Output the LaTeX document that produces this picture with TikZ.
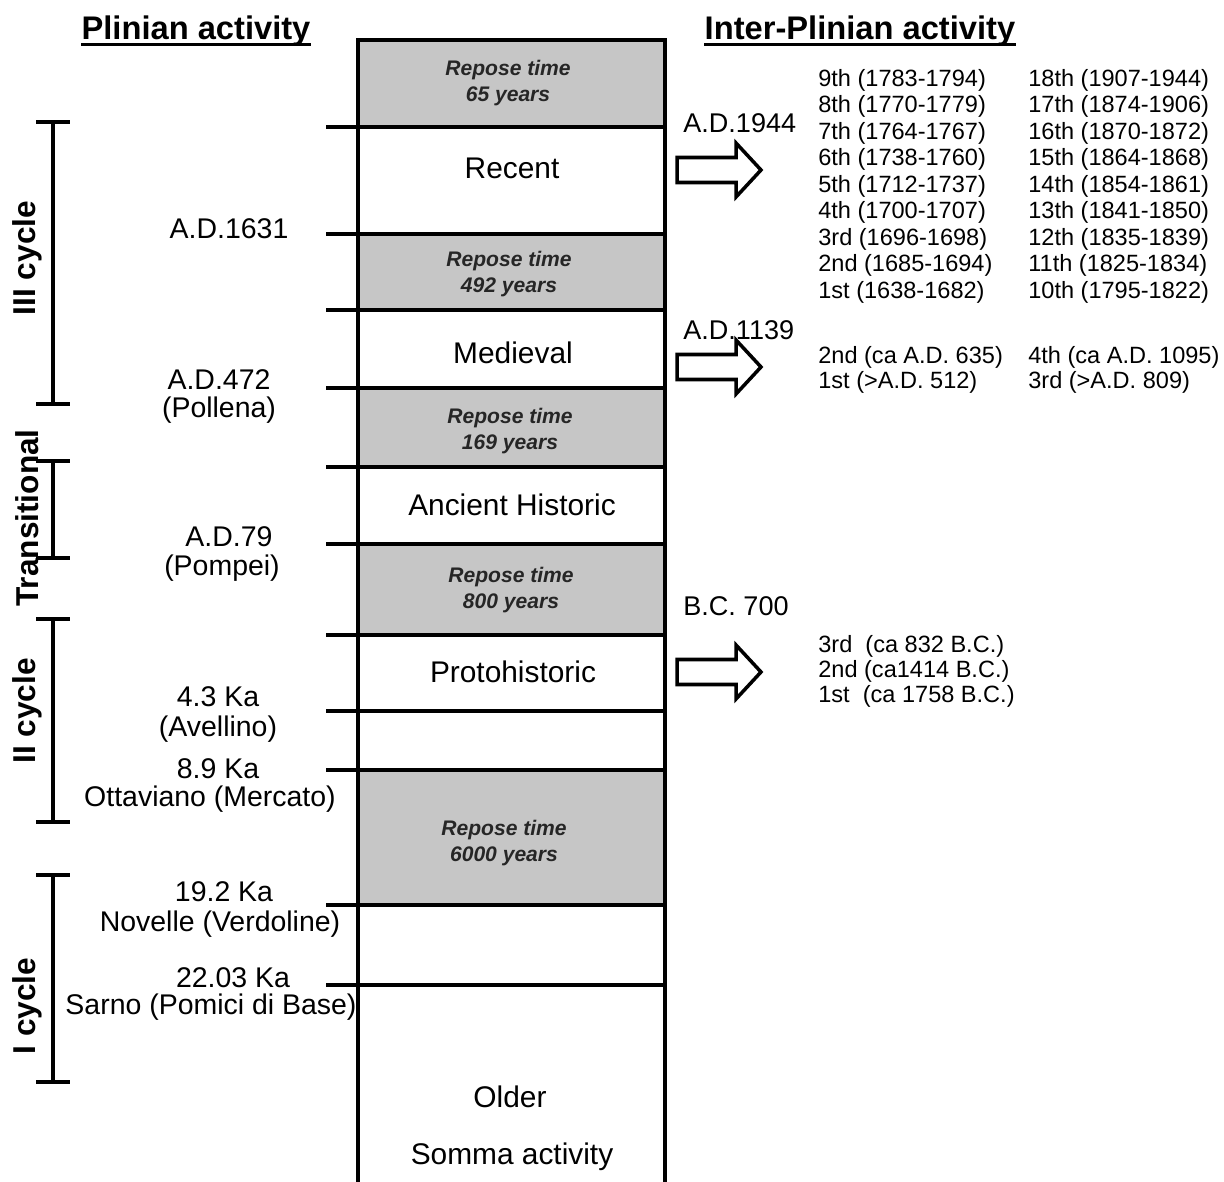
\documentclass[tikz,border=0pt]{standalone}
\usepackage{fontspec}
\setmainfont{Liberation Sans}
\usetikzlibrary{calc}
\definecolor{bandgray}{RGB}{198,198,198}
\tikzset{
  frame/.style      = {line width=2.4pt},
  tick/.style       = {line width=2.1pt},
  bracket/.style    = {line width=2pt},
  blockarrow/.style = {line width=2pt, fill=white, line join=miter},
  heading/.style    = {font=\bfseries\fontsize{18.6}{22}\selectfont, inner sep=0pt, anchor=base},
  bandlabel/.style  = {font=\fontsize{17}{20}\selectfont, inner sep=0pt},
  reposelabel/.style= {font=\bfseries\itshape\fontsize{12}{14.7}\selectfont, align=center,
                       inner sep=0pt, text=black!85},
  datelabel/.style  = {font=\fontsize{16.2}{19}\selectfont, inner sep=0pt},
  eventdate/.style  = {font=\fontsize{15.4}{18}\selectfont, inner sep=0pt, anchor=west},
  cyclelabel/.style = {font=\bfseries\fontsize{18}{21}\selectfont, rotate=90, inner sep=0pt},
  eventlist/.style  = {font=\fontsize{13.4}{16}\selectfont, anchor=west, inner sep=0pt},
}

\begin{document}
\begin{tikzpicture}[x=0.02cm,y=-0.02cm]
  \useasboundingbox (0,0) rectangle (1224,1182);

  % ---- headings ----------------------------------------------------------
  \node[heading] (hplin) at (196,40) {Plinian activity};
  \node[heading] (hinter) at (860,40) {Inter-Plinian activity};
  \draw[line width=1.8pt] ([yshift=-2.4pt]hplin.base west) -- ([yshift=-2.4pt]hplin.base east);
  \draw[line width=1.8pt] ([yshift=-2.4pt]hinter.base west) -- ([yshift=-2.4pt]hinter.base east);

  % ---- column ------------------------------------------------------------
  \foreach \ya/\yb in {40/127, 234/310, 388/467, 544/635, 770/905}
    \fill[bandgray] (358,\ya) rectangle (665,\yb);
  \foreach \y in {127,234,310,388,467,544,635,711,770,905,985}
    \draw[tick] (326,\y) -- (665,\y);
  \draw[frame] (358,1190) -- (358,40) -- (665,40) -- (665,1190);

  \node[reposelabel] (rep1) at (508,83)  {Repose time\\65 years};
  \node[bandlabel]   (recent) at (512,168) {Recent};
  \node[reposelabel] (rep2) at (509,274) {Repose time\\492 years};
  \node[bandlabel]   (medieval) at (513,353) {Medieval};
  \node[reposelabel] (rep3) at (510,431) {Repose time\\169 years};
  \node[bandlabel]   (ancient) at (512,505) {Ancient Historic};
  \node[reposelabel] (rep4) at (511,590) {Repose time\\800 years};
  \node[bandlabel]   (proto) at (513,672) {Protohistoric};
  \node[reposelabel] (rep5) at (504,843) {Repose time\\6000 years};
  \node[bandlabel]   (older) at (510,1097) {Older};
  \node[bandlabel]   (somma) at (512,1157) {Somma activity};

  % ---- Plinian eruptions -------------------------------------------------
  \node[datelabel] (d1631) at (229,229) {A.D.1631};
  \node[datelabel] (d472)  at (219,380) {A.D.472};
  \node[datelabel] (pollena) at (219,410) {(Pollena)};
  \node[datelabel] (d79)   at (229,537) {A.D.79};
  \node[datelabel] (pompei) at (222,568) {(Pompei)};
  \node[datelabel] (d43)   at (218,697) {4.3 Ka};
  \node[datelabel] (avellino) at (218,729) {(Avellino)};
  \node[datelabel] (d89)   at (218,769) {8.9 Ka};
  \node[datelabel] (mercato) at (210,799) {Ottaviano (Mercato)};
  \node[datelabel] (d192)  at (224,892) {19.2 Ka};
  \node[datelabel] (verdoline) at (220,924) {Novelle (Verdoline)};
  \node[datelabel] (d2203) at (233,978) {22.03 Ka};
  \node[datelabel] (sarno) at (211,1007) {Sarno (Pomici di Base)};

  % ---- cycles ------------------------------------------------------------
  \foreach \ya/\yb in {122/404, 461/558, 619/822, 875/1082}
    \draw[bracket] (36,\ya) -- (70,\ya) (53,\ya) -- (53,\yb) (36,\yb) -- (70,\yb);
  \node[cyclelabel] (cyc3)  at (27,258)  {III cycle};
  \node[cyclelabel] (trans) at (27,518)  {Transitional};
  \node[cyclelabel] (cyc2)  at (27,711)  {II cycle};
  \node[cyclelabel] (cyc1)  at (27,1006) {I cycle};

  % ---- inter-Plinian activity --------------------------------------------
  \node[eventdate] (a1944) at (683,123) {A.D.1944};
  \node[eventdate] (a1139) at (683,330) {A.D.1139};
  \node[eventdate] (b700)  at (683,606) {B.C. 700};
  \foreach \y in {170,367,672}
    \draw[blockarrow, shift={(0,\y)}] (677,-12.5) -- (736,-12.5) -- (736,-27) -- (761,0)
      -- (736,27) -- (736,12.5) -- (677,12.5) -- cycle;

  \foreach \txt [count=\i] in {9th (1783-1794), 8th (1770-1779), 7th (1764-1767),
      6th (1738-1760), 5th (1712-1737), 4th (1700-1707), 3rd (1696-1698),
      2nd (1685-1694), 1st (1638-1682)}
    \node[eventlist] (ra\i) at (818,{80+26.5*(\i-1)}) {\txt};
  \foreach \txt [count=\i] in {18th (1907-1944), 17th (1874-1906), 16th (1870-1872),
      15th (1864-1868), 14th (1854-1861), 13th (1841-1850), 12th (1835-1839),
      11th (1825-1834), 10th (1795-1822)}
    \node[eventlist] (rb\i) at (1028,{80+26.5*(\i-1)}) {\txt};

  \node[eventlist] (ma1) at (818,357)  {2nd (ca A.D. 635)};
  \node[eventlist] (ma2) at (818,382)  {1st (>A.D. 512)};
  \node[eventlist] (mb1) at (1028,357) {4th (ca A.D. 1095)};
  \node[eventlist] (mb2) at (1028,382) {3rd (>A.D. 809)};

  \node[eventlist] (pa1) at (818,646) {3rd\ \ (ca 832 B.C.)};
  \node[eventlist] (pa2) at (818,671) {2nd (ca1414 B.C.)};
  \node[eventlist] (pa3) at (818,696) {1st\ \ (ca 1758 B.C.)};
\end{tikzpicture}
\end{document}
